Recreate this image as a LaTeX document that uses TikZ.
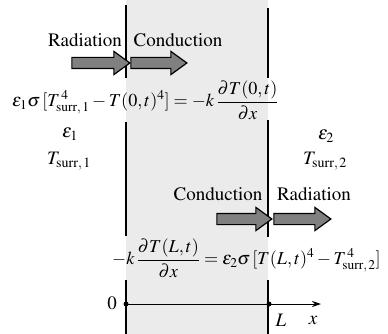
\documentclass[tikz,border=0pt]{standalone}
\usepackage{amsmath}
\usepackage[T1]{fontenc}
\usepackage{mathptmx}
\usetikzlibrary{shapes.arrows,arrows.meta}
\begin{document}
\begin{tikzpicture}[x=1pt,y=-1pt,
  font=\fontsize{19}{22}\selectfont,
  wall/.style={line width=1.3pt},
  blockarrow/.style={single arrow, draw=black, fill=black!50, line width=1.2pt,
    inner xsep=0pt, inner ysep=5pt, single arrow head extend=6pt,
    single arrow tip angle=72, anchor=center},
  lbl/.style={inner sep=0pt},
  eqn/.style={inner sep=0pt, anchor=west, font=\fontsize{18.2}{21}\selectfont}]
\useasboundingbox (0,0) rectangle (388,334);
% slab shading
\fill[black!8] (126,0) rectangle (268,334);
% walls
\draw[wall] (126,5) -- (126,78);
\draw[wall] (126,122) -- (126,236);
\draw[wall] (126,280) -- (126,334);
\draw[wall] (268,8) -- (268,78);
\draw[wall] (268,120) -- (268,237);
\draw[wall] (268,280) -- (268,334);
% block arrows
\node[blockarrow, minimum height=58pt] (radL) at (97,63) {};
\node[blockarrow, minimum height=56pt] (condL) at (155,63) {};
\node[blockarrow, minimum height=55pt] (condR) at (240.5,219) {};
\node[blockarrow, minimum height=57pt] (radR) at (298.5,219) {};
% labels
\node[lbl] (tRadL) at (85,40) {Radiation};
\node[lbl] (tCondL) at (178,40) {Conduction};
\node[lbl] (tCondR) at (218,194) {Conduction};
\node[lbl] (tRadR) at (314,194) {Radiation};
\node[lbl] (eps1) at (70,134) {$\varepsilon_1$};
\node[lbl] (Ts1) at (69,161) {$T_{\mathrm{surr},\,1}$};
\node[lbl] (eps2) at (326,136) {$\varepsilon_2$};
\node[lbl] (Ts2) at (325,161) {$T_{\mathrm{surr},\,2}$};
% equations
\node[eqn] (eqTop) at (12,100)
  {$\varepsilon_1\sigma\,[T^{\,4}_{\mathrm{surr},\,1}-T(0,t)^4]=-k\,\dfrac{\partial T(0,t)}{\partial x}$};
\node[eqn] (eqBot) at (112,258)
  {$-k\,\dfrac{\partial T(L,t)}{\partial x}=\varepsilon_2\sigma\,[T(L,t)^4-T^{\,4}_{\mathrm{surr},\,2}]$};
% axis
\coordinate (o) at (126,304);
\coordinate (l) at (269,304);
\coordinate (xend) at (321,304);
\draw[line width=1pt,-{Stealth[length=9pt,width=6pt]}] (o) -- (xend);
\fill (o) circle (2.5);
\fill (l) circle (2.5);
\node[lbl] (zero) at (112,303) {$0$};
\node[lbl] (Llbl) at (281,320) {$L$};
\node[lbl] (xlbl) at (313,320) {$x$};
\end{tikzpicture}
\end{document}
